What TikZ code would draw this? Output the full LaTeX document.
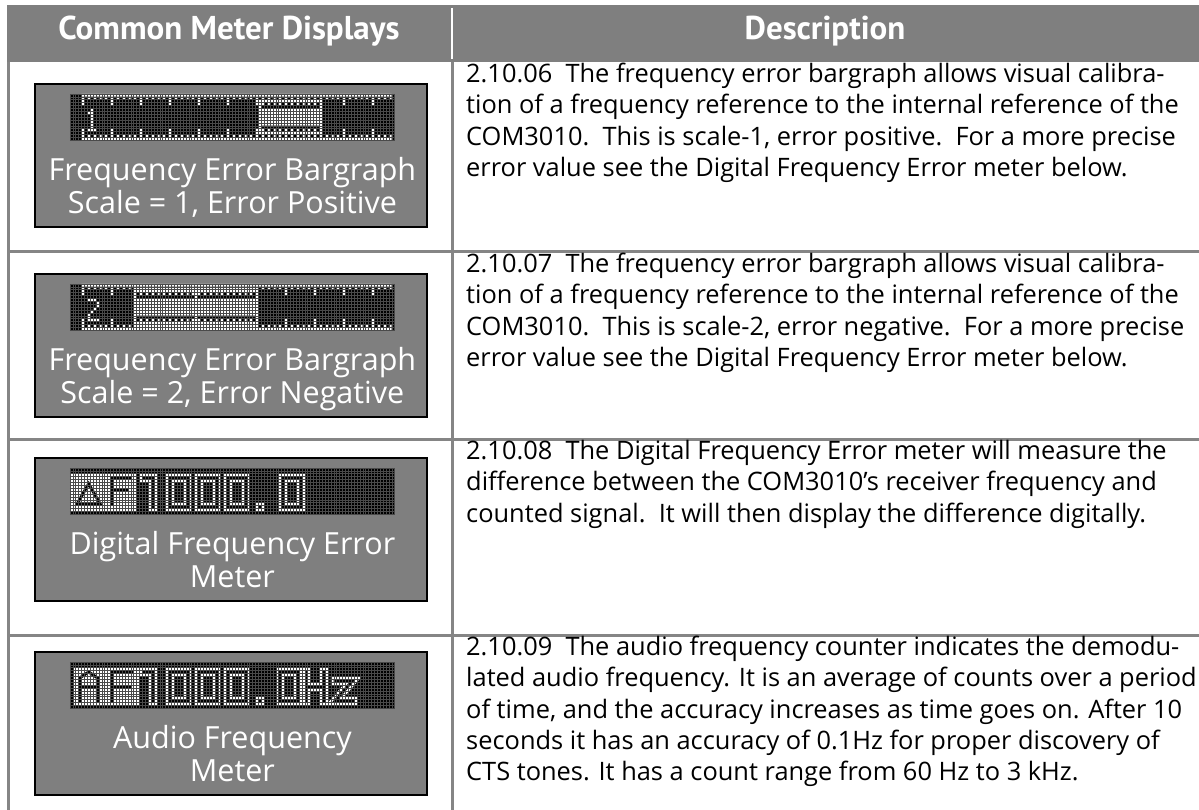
\documentclass[tikz,border=0pt]{standalone}
\usepackage{fontspec}
\setmainfont{PT Sans}
\newfontfamily\descfont{Open Sans}
\usetikzlibrary{positioning}

\definecolor{hdrgray}{HTML}{7F7F7F}
\definecolor{rulegray}{HTML}{858585}
\definecolor{dotline}{HTML}{4A4A4A}

% one character of the dot matrix, drawn as a hollow stroke
\newcommand{\lcdchar}[3]{%
  \begin{scope}[shift={(#1,#2)}]
    \draw[glyphout] #3;
    \draw[glyphin] #3;
  \end{scope}}
% rulers of the bargraph
\newcommand{\lcdrulers}{%
  \fill[white] (4,0) rectangle (111,1) (4,15) rectangle (111,16);
  \foreach \col in {4,6,...,110}
    \fill[white] (\col,1) rectangle ++(1,1) (\col,14) rectangle ++(1,1);
  \foreach \col in {4,14,...,110}
    \fill[white] (\col,2) rectangle ++(1,2) (\col,12) rectangle ++(1,2);}
% the cell lines over the whole matrix
\newcommand{\lcdgrid}{%
  \foreach \col in {0,...,112}
    \draw[gridline] (\col,0) -- (\col,16);
  \foreach \row in {0,...,16}
    \draw[gridline] (0,\row) -- (112,\row);}

\begin{document}
\begin{tikzpicture}[x=1pt,y=-1pt,
    rule/.style={rulegray,line width=3pt},
    panel/.style={draw=black,line width=2pt,fill=hdrgray,minimum width=392pt,
      minimum height=143pt,inner sep=0pt},
    lcd/.style={fill=black,minimum width=324.8pt,minimum height=46.4pt,inner sep=0pt},
    mtrcaption/.style={white,align=center,inner sep=0pt,
      font=\descfont\fontsize{30.5}{33}\selectfont},
    hdr/.style={white,font=\fontsize{33}{36}\selectfont\bfseries},
    desc/.style={anchor=north west,inner sep=0pt,align=left,
      font=\descfont\fontsize{25.4}{31.3}\selectfont},
    glyphout/.style={white,line width=8.7pt,line join=miter,line cap=rect},
    glyphin/.style={black,line width=2.9pt,line join=miter,line cap=rect},
    dots/.style={x=2.9pt,y=-2.9pt},
    gridline/.style={dotline,line width=0.35pt}]

  \useasboundingbox[fill=white] (0,0) rectangle (1199,810);

  % table
  \fill[hdrgray] (7,5) rectangle (1199,62);
  \draw[white,line width=2.5pt] (452,8) -- (452,59);
  \draw[rule] (8.5,62) -- (8.5,810);
  \draw[rule] (452,62) -- (452,810);
  \draw[rule] (7,252) -- (1199,252);
  \draw[rule] (7,439) -- (1199,439);
  \draw[rule] (7,635) -- (1199,635);
  \node[hdr] (h1) at (229,31) {Common Meter Displays};
  \node[hdr] (h2) at (825,31) {Description};

  % meter panels
  \node[panel] (p1) at (231,155.5) {};
  \node[panel] (p2) at (231,345.5) {};
  \node[panel] (p3) at (231,529.5) {};
  \node[panel] (p4) at (231,723.5) {};
  \node[lcd] (l1) at (232.4,117.2) {};
  \node[lcd] (l2) at (232.4,307.2) {};
  \node[lcd] (l3) at (232.4,491.2) {};
  \node[lcd] (l4) at (232.4,685.2) {};
  \node[mtrcaption,below=17pt of l1] (c1) {Frequency Error Bargraph\\Scale = 1, Error Positive};
  \node[mtrcaption,below=17pt of l2] (c2) {Frequency Error Bargraph\\Scale = 2, Error Negative};
  \node[mtrcaption,below=17pt of l3] (c3) {Digital Frequency Error\\Meter};
  \node[mtrcaption,below=17pt of l4] (c4) {Audio Frequency\\Meter};

  % bargraph, scale 1, error positive
  \begin{scope}[shift={(l1.north west)},dots]
    \lcdrulers
    \fill[white] (7,5) rectangle (8,13) (6,6) rectangle (7,7) (6,12) rectangle (9,13);
    \fill[white] (65,2) rectangle (87,14);
    \fill[black] (66,4) rectangle (86,5) (66,11) rectangle (86,12);
    \foreach \col in {67,69,...,85}
      \fill[black] (\col,3) rectangle ++(1,1) (\col,12) rectangle ++(1,1);
    \lcdgrid
  \end{scope}

  % bargraph, scale 2, error negative
  \begin{scope}[shift={(l2.north west)},dots]
    \lcdrulers
    \fill[white] (6,5) rectangle (9,6) (9,6) rectangle (10,8) (8,8) rectangle (9,9)
      (7,9) rectangle (8,10) (6,10) rectangle (7,12) (6,12) rectangle (10,13);
    \fill[white] (22,1) rectangle (65,15);
    \fill[black] (23,3) rectangle (64,5) (23,11) rectangle (64,13);
    \foreach \col in {24,26,...,63}
      \fill[white] (\col,3) rectangle ++(1,1) (\col,12) rectangle ++(1,1);
    \fill[white] (43,3) rectangle (44,13);
    \lcdgrid
  \end{scope}

  % digital frequency error
  \begin{scope}[shift={(l3.north west)},dots]
    \fill[white] (0,2) rectangle (23,15);
    \draw[glyphin] (2.5,12.5) -- (6.5,5.5) -- (10.5,12.5) -- cycle;
    \draw[glyphin] (20.5,3.5) -- (14.5,3.5) -- (14.5,12.5) (14.5,7.5) -- (19.5,7.5);
    \lcdchar{24}{2}{(1.5,1.5) -- (4.5,1.5) -- (4.5,11.5)}
    \lcdchar{33}{2}{(1.5,1.5) rectangle (7.5,11.5)}
    \lcdchar{43}{2}{(1.5,1.5) rectangle (7.5,11.5)}
    \lcdchar{53}{2}{(1.5,1.5) rectangle (7.5,11.5)}
    \fill[white] (64,12) rectangle (67,15);
    \fill[black] (65,13) rectangle (66,14);
    \lcdchar{72}{2}{(1.5,1.5) rectangle (7.5,11.5)}
    \lcdgrid
  \end{scope}

  % audio frequency
  \begin{scope}[shift={(l4.north west)},dots]
    \fill[white] (1,2) rectangle (24,15);
    \draw[glyphin] (3.5,13.5) -- (3.5,5.5) -- (6.5,3.5) -- (9.5,5.5) -- (9.5,13.5)
      (3.5,8.5) -- (9.5,8.5);
    \draw[glyphin] (21.5,3.5) -- (14.5,3.5) -- (14.5,13.5) (14.5,8.5) -- (20.5,8.5);
    \lcdchar{24}{2}{(1.5,1.5) -- (4.5,1.5) -- (4.5,11.5)}
    \lcdchar{33}{2}{(1.5,1.5) rectangle (7.5,11.5)}
    \lcdchar{43}{2}{(1.5,1.5) rectangle (7.5,11.5)}
    \lcdchar{53}{2}{(1.5,1.5) rectangle (7.5,11.5)}
    \fill[white] (64,12) rectangle (67,15);
    \fill[black] (65,13) rectangle (66,14);
    \lcdchar{71}{2}{(1.5,1.5) rectangle (7.5,11.5)}
    \lcdchar{80}{2}{(1.5,1.5) -- (1.5,11.5) (7.5,1.5) -- (7.5,11.5) (1.5,6.5) -- (7.5,6.5)}
    \lcdchar{90}{2}{(1.5,4.5) -- (7.5,4.5) -- (1.5,11.5) -- (7.5,11.5)}
    \lcdgrid
  \end{scope}

  % descriptions
  \node[desc] (t1) at (466,63) {2.10.06\ \ The frequency error bargraph allows visual calibra-\\
    tion of a frequency reference to the internal reference of the\\
    COM3010.\ \ This is scale-1, error positive.\ \ For a more precise\\
    error value see the Digital Frequency Error meter below.};
  \node[desc] (t2) at (466,253) {2.10.07\ \ The frequency error bargraph allows visual calibra-\\
    tion of a frequency reference to the internal reference of the\\
    COM3010.\ \ This is scale-2, error negative.\ \ For a more precise\\
    error value see the Digital Frequency Error meter below.};
  \node[desc] (t3) at (466,440) {2.10.08\ \ The Digital Frequency Error meter will measure the\\
    difference between the COM3010’s receiver frequency and\\
    counted signal.\ \ It will then display the difference digitally.};
  \node[desc] (t4) at (466,636) {2.10.09\ \ The audio frequency counter indicates the demodu-\\
    lated audio frequency. It is an average of counts over a period\\
    of time, and the accuracy increases as time goes on. After 10\\
    seconds it has an accuracy of 0.1Hz for proper discovery of\\
    CTS tones. It has a count range from 60 Hz to 3 kHz.};
\end{tikzpicture}
\end{document}
